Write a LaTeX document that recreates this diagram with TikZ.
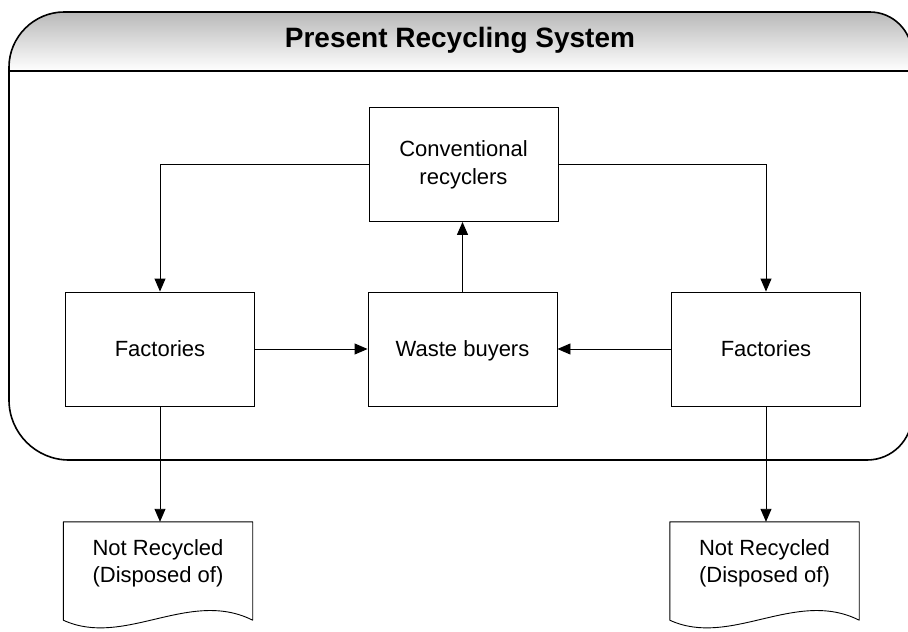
\documentclass[tikz,border=0pt]{standalone}
\usepackage{fontspec}
\setmainfont{Liberation Sans}
\usetikzlibrary{arrows.meta,calc}
\begin{document}
\begin{tikzpicture}[x=1pt,y=-1pt,
  procbox/.style={draw,line width=0.9pt,minimum width=189pt,minimum height=114pt,inner sep=0pt,align=center,font=\fontsize{22}{28}\selectfont},
  oneline/.style={text height=20pt,text depth=4.2pt},
  docframe/.style={minimum width=189pt,minimum height=98pt,inner sep=0pt},
  doctext/.style={align=center,font=\fontsize{22}{27}\selectfont},
  flow/.style={line width=0.9pt,-{Triangle[length=13pt,width=11pt]}},
  docline/.style={line width=0.9pt,line join=round},
  frameline/.style={line width=1.6pt}]
\useasboundingbox (0,0) rectangle (908,632);
\fill[white] (0,0) rectangle (908,632);
% title band
\shade[top color=gray!55,bottom color=white]
  (9,71) -- (9,67) .. controls (9,37) and (34,12) .. (64,12) -- (870,12)
  .. controls (893,12) and (912,31) .. (912,54) -- (912,71) -- cycle;
% container
\draw[frameline]
  (9,67) .. controls (9,37) and (34,12) .. (64,12) -- (870,12)
  .. controls (893,12) and (912,31) .. (912,54) -- (912,415)
  .. controls (912,440) and (892,460) .. (867,460) -- (69,460)
  .. controls (36,460) and (9,433) .. (9,400) -- cycle;
\draw[line width=1.3pt] (9,71) -- (912,71);
\node[font=\fontsize{28}{32}\selectfont\bfseries,anchor=base,inner sep=0pt] (title) at (460,47) {Present Recycling System};
% process boxes
\node[procbox] (cr) at (463.5,164.5) {Conventional\\recyclers};
\node[procbox,oneline] (fl) at (160,349) {Factories};
\node[procbox,oneline] (wb) at (462.5,349) {Waste buyers};
\node[procbox,oneline] (fr) at (766,349) {Factories};
% documents
\node[docframe] (dl) at (158,571) {};
\node[docframe] (dr) at (764.5,571) {};
\draw[docline] (dl.north west) -- (dl.south west)
  .. controls ($(dl.south west)+(61,28)$) and ($(dl.south west)+(126,-32)$) .. (dl.south east)
  -- (dl.north east) -- cycle;
\draw[docline] (dr.north west) -- (dr.south west)
  .. controls ($(dr.south west)+(61,28)$) and ($(dr.south west)+(126,-32)$) .. (dr.south east)
  -- (dr.north east) -- cycle;
\node[doctext] (dlt) at (158,563.5) {Not Recycled\\(Disposed of)};
\node[doctext] (drt) at (764.5,563.5) {Not Recycled\\(Disposed of)};
% connectors
\draw[flow] (cr.west) -| (fl.north);
\draw[flow] (cr.east) -| (fr.north);
\draw[flow,line width=1.3pt] (wb.north) -- (wb.north |- cr.south);
\draw[flow] (fl.east) -- (wb.west);
\draw[flow] (fr.west) -- (wb.east);
\draw[flow] (fl.south) -- (fl.south |- dl.north);
\draw[flow] (fr.south) -- (fr.south |- dr.north);
\end{tikzpicture}
\end{document}
